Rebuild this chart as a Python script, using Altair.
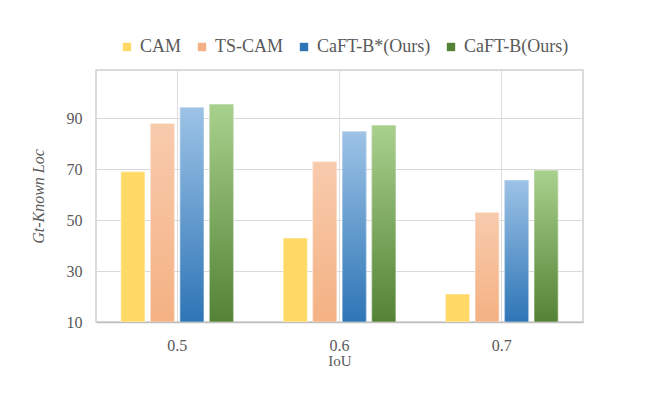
import altair as alt
import pandas as pd

iou = ["0.5", "0.6", "0.7"]
series = ["CAM", "TS-CAM", "CaFT-B*(Ours)", "CaFT-B(Ours)"]
cam = [69, 43, 21]
tscam = [88, 73, 53]
caft_star = [94.3, 84.8, 65.8]
caft = [95.6, 87.3, 69.6]

light = ["#FFD966", "#F8CBAD", "#9DC3E6", "#A9D18E"]
dark = ["#FFD966", "#F4B183", "#2E75B6", "#548235"]
legend_col = ["#FFD966", "#F4B183", "#2E75B6", "#548235"]

rows = []
for s, vals in zip(series, [cam, tscam, caft_star, caft]):
    for i, v in zip(iou, vals):
        rows.append({"iou": i, "series": s, "value": v})
df = pd.DataFrame(rows)

FONT = "Liberation Serif"
GREY = "#595959"

x_enc = alt.X("iou:N", sort=iou, title="IoU",
              scale=alt.Scale(paddingInner=0, paddingOuter=0),
              axis=alt.Axis(labelAngle=0, ticks=False, labelPadding=15,
                            labelFontSize=16, titleFontSize=15,
                            labelFont=FONT, titleFont=FONT,
                            labelColor=GREY, titleColor=GREY,
                            titleFontWeight="normal", titlePadding=0,
                            domainColor="#BFBFBF", domainWidth=1.5))
xo_enc = alt.XOffset("series:N", sort=series,
                     scale=alt.Scale(domain=series, paddingInner=0.186, paddingOuter=0.843))
y_enc = alt.Y("value:Q", title="Gt-Known Loc",
              scale=alt.Scale(domain=[10, 109], nice=False, zero=False),
              axis=alt.Axis(values=[10, 30, 50, 70, 90], ticks=False, domain=False,
                            labelPadding=14, labelFontSize=16, titleFontSize=16,
                            labelFont=FONT, titleFont=FONT,
                            labelColor=GREY, titleColor=GREY,
                            titleFontWeight="normal", titleFontStyle="italic",
                            titlePadding=20,
                            gridColor="#D9D9D9", gridWidth=1.2))
y2_enc = alt.Y2(datum=10)

base = alt.Chart(df).mark_bar(clip=True).encode(
    x=x_enc, xOffset=xo_enc, y=y_enc, y2=y2_enc,
    color=alt.Color("series:N", sort=series,
                    scale=alt.Scale(domain=series, range=legend_col),
                    legend=alt.Legend(title=None, orient="none", direction="horizontal",
                                      legendX=22, legendY=-32,
                                      symbolType="square", symbolSize=70,
                                      symbolStrokeWidth=0,
                                      labelFont=FONT, labelFontSize=18,
                                      labelColor=GREY, columnPadding=11,
                                      labelOffset=4)),
)

layers = [base]
for s, lc, dc in zip(series, light, dark):
    grad = alt.Gradient(gradient="linear",
                        stops=[alt.GradientStop(color=lc, offset=0),
                               alt.GradientStop(color=dc, offset=1)],
                        x1=0, x2=0, y1=0, y2=1)
    layers.append(
        alt.Chart(df).transform_filter(alt.datum.series == s)
        .mark_bar(fill=grad, stroke="#FFFFFF", strokeOpacity=0.5, strokeWidth=1, clip=True)
        .encode(x=x_enc, xOffset=xo_enc, y=y_enc, y2=y2_enc)
    )

chart = alt.layer(*layers).properties(
    width=487, height=252,
    autosize=alt.AutoSizeParams(type="none"),
    padding={"left": 88, "top": 62, "right": 70, "bottom": 70},
).configure(font=FONT).configure_view(stroke="#D0D0D0", strokeWidth=1.5).configure_axis(
    grid=True, labelFont=FONT, titleFont=FONT
).configure_legend(labelFont=FONT)

chart.save("out.html", embed_options={"renderer": "svg", "actions": False})
